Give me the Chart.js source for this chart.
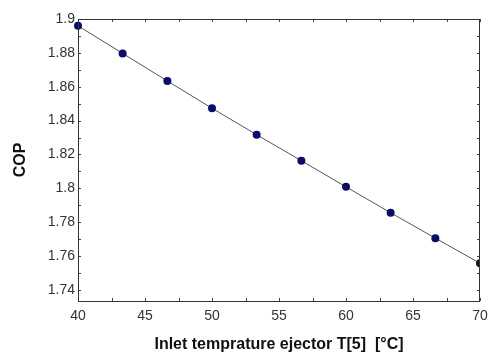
<!DOCTYPE html>
<html>
<head>
<meta charset="utf-8">
<script src="https://cdn.jsdelivr.net/npm/chart.js@4/dist/chart.umd.min.js"></script>
<style>
  html, body { margin: 0; padding: 0; background: #fff; }
  #wrap { width: 489px; height: 354px; }
</style>
</head>
<body>
<div id="wrap"><canvas id="c" width="489" height="354"></canvas></div>
<script>
/* --------------------------------------------------------------
   DADOS
   -------------------------------------------------------------- */
const temps = [40, 43.33, 46.67, 50, 53.33, 56.67, 60, 63.33, 66.67, 70];
const cop   = [1.896, 1.8797, 1.8634, 1.8473, 1.8317, 1.8163, 1.8009, 1.7856, 1.7706, 1.7558];
const xTicks = [40, 45, 50, 55, 60, 65, 70];
const yTicks = [1.74, 1.76, 1.78, 1.8, 1.82, 1.84, 1.86, 1.88, 1.9];

const FONT = 'Arial, "Liberation Sans", sans-serif';

/* --------------------------------------------------------------
   TICKS INTERNOS (4 lados, maiores e menores)
   -------------------------------------------------------------- */
const innerTicks = {
  id: 'innerTicks',
  afterDraw(chart) {
    const { ctx, chartArea: a, scales: { x, y } } = chart;
    ctx.save();
    ctx.strokeStyle = '#444';
    ctx.lineWidth = 1;
    ctx.beginPath();
    for (let v = 40; v <= 70.001; v += 2.5) {
      const px = Math.round(x.getPixelForValue(v)) + 0.5;
      ctx.moveTo(px, a.bottom); ctx.lineTo(px, a.bottom - 3);
      ctx.moveTo(px, a.top);    ctx.lineTo(px, a.top + 3);
    }
    for (let v = 1.74; v <= 1.9001; v += 0.01) {
      const py = Math.round(y.getPixelForValue(v)) + 0.5;
      ctx.moveTo(a.left, py);  ctx.lineTo(a.left + 3, py);
      ctx.moveTo(a.right, py); ctx.lineTo(a.right - 3, py);
    }
    ctx.stroke();
    ctx.strokeStyle = '#333';
    ctx.strokeRect(a.left + 0.5, a.top + 0.5, a.right - a.left - 1, a.bottom - a.top);
    ctx.restore();
  }
};

/* --------------------------------------------------------------
   CHART.JS
   -------------------------------------------------------------- */
new Chart(document.getElementById('c'), {
  type: 'line',
  data: {
    datasets: [{
      data: temps.map((t, i) => ({ x: t, y: cop[i] })),
      borderColor: '#555',
      borderWidth: 1,
      pointBackgroundColor: (c) => c.dataIndex === temps.length - 1 ? '#111' : '#0b0b6b',
      pointBorderWidth: 0,
      pointRadius: 4,
      tension: 0,
      clip: { left: false, top: false, bottom: false, right: 0 }
    }]
  },
  options: {
    responsive: false,
    animation: false,
    layout: { padding: { top: 19, right: 9, left: 0, bottom: 0 } },
    plugins: { legend: { display: false }, tooltip: { enabled: false } },
    scales: {
      x: {
        type: 'linear',
        min: 40, max: 70,
        afterBuildTicks: (s) => { s.ticks = xTicks.map(v => ({ value: v })); },
        afterFit: (s) => { s.height = 53; s.paddingRight = 0; s.paddingLeft = 0; },
        grid: { display: false, drawTicks: false },
        border: { display: false },
        ticks: {
          color: '#333', padding: 7,
          font: { family: FONT, size: 14 },
          callback: (v) => String(v)
        },
        title: {
          display: true,
          text: 'Inlet temprature ejector T[5]  [°C]',
          color: '#111',
          font: { family: FONT, size: 16, weight: 'bold' },
          padding: { top: 5, bottom: 0 }
        }
      },
      y: {
        min: 1.7335, max: 1.9,
        afterBuildTicks: (s) => { s.ticks = yTicks.map(v => ({ value: v })); },
        afterFit: (s) => { s.width = 78; s.paddingTop = 0; s.paddingBottom = 0; },
        grid: { display: false, drawTicks: false },
        border: { display: false },
        ticks: {
          color: '#333', padding: 3,
          font: { family: FONT, size: 14 },
          callback: (v) => String(Math.round(v * 100) / 100)
        },
        title: {
          display: true,
          text: 'COP',
          color: '#111',
          font: { family: FONT, size: 16, weight: 'bold' },
          padding: { top: 11, bottom: 0 }
        }
      }
    }
  },
  plugins: [innerTicks]
});
</script>
</body>
</html>
